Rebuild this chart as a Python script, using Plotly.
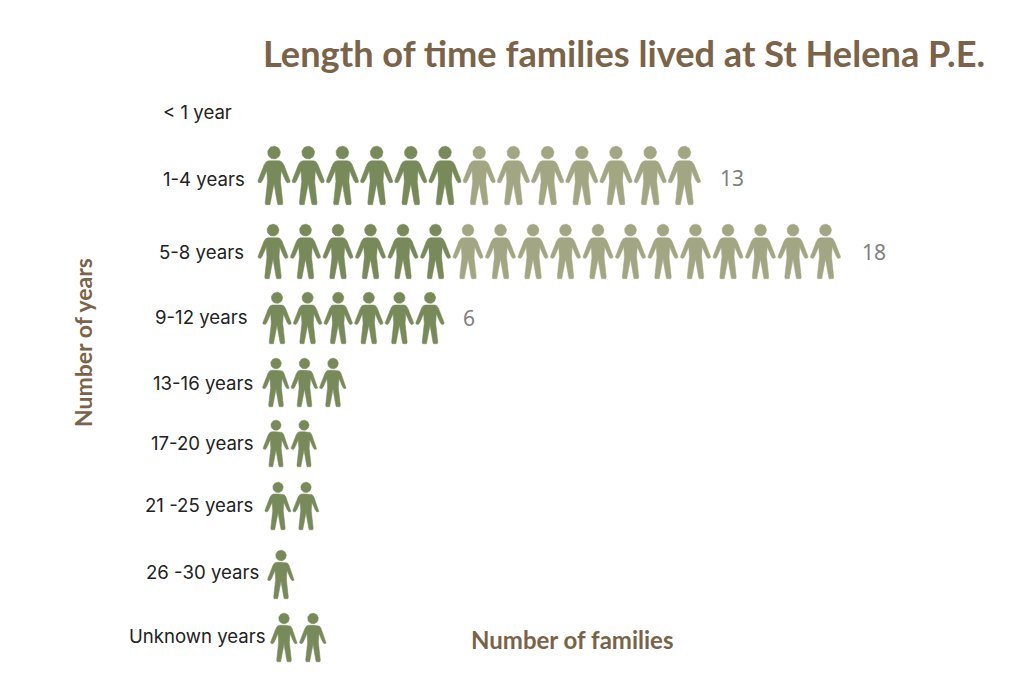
import numpy as np
import plotly.graph_objects as go

# ---- data ----
categories = ["< 1 year", "1-4 years", "5-8 years", "9-12 years", "13-16 years",
              "17-20 years", "21 -25 years", "26 -30 years", "Unknown years"]
families = [0, 13, 18, 6, 3, 2, 2, 1, 2]
highlighted = [0, 6, 6, 6, 3, 2, 2, 1, 2]   # darker icons in each row
value_labels = {1: "13", 2: "18", 3: "6"}

title_text = "Length of time families lived at St Helena P.E."
x_title = "Number of families"
y_title = "Number of years"

# ---- row layout (page pixels; axes are mapped 1:1 to the page, which has an 8px body margin) ----
row_first = [0, 274, 273, 277, 276, 276, 278, 281, 284]
row_pitch = [0, 34.2, 32.5, 30.6, 28.5, 28, 28, 0, 29]
row_top = [0, 146, 224, 292, 358, 420, 482, 550, 613]
row_height = [0, 59, 55, 52, 49, 47, 48, 49, 49]
label_right = [234, 247, 246, 250, 255, 256, 255, 261, 268]
label_y = [112, 179, 252, 317, 383, 443, 505, 572, 636]
value_x = [0, 732, 874, 469]
value_y = [0, 178, 252, 318]

DARK = "#78895a"
LIGHT = "#a3a682"
BROWN = "#7a6348"
TITLE_FONT = "Lato"
LABEL_FONT = "Inter"

half = [(0.0, .25), (.09, .25), (.13, .265), (.165, .315), (.272, .59), (.268, .615), (.225, .625),
        (.195, .585), (.122, .42), (.11, .60), (.150, .965), (.140, .995), (.068, .995),
        (.056, .96), (0.0, .64)]
bx = np.array([p[0] for p in half] + [-p[0] for p in half[::-1]])
by = np.array([p[1] for p in half] + [p[1] for p in half[::-1]])
theta = np.linspace(0, 2 * np.pi, 37)
hx = .108 * np.cos(theta)
hy = .112 + .108 * np.sin(theta)


def icons(xc, top, h):
    xs, ys = [], []
    for x in xc:
        xs += list(x + bx * h) + [None] + list(x + hx * h) + [None]
        ys += list(top + by * h) + [None] + list(top + hy * h) + [None]
    return xs, ys


fig = go.Figure()
for r, n in enumerate(families):
    if n == 0:
        continue
    centres = [row_first[r] + i * row_pitch[r] for i in range(n)]
    for part, col in ((centres[:highlighted[r]], DARK), (centres[highlighted[r]:], LIGHT)):
        if not part:
            continue
        xs, ys = icons(part, row_top[r], row_height[r])
        fig.add_trace(go.Scatter(x=xs, y=ys, mode="lines", fill="toself", fillcolor=col,
                                 line=dict(color=col, width=0.5), hoverinfo="skip",
                                 showlegend=False, name=categories[r]))

ann = []
for r, c in enumerate(categories):
    ann.append(dict(x=label_right[r], y=label_y[r], text=c, xanchor="right", yanchor="middle",
                    showarrow=False, font=dict(family=LABEL_FONT, size=18.6, color="#222222")))
for r, t in value_labels.items():
    ann.append(dict(x=value_x[r], y=value_y[r], text=t, xanchor="center", yanchor="middle",
                    showarrow=False, font=dict(family="Noto Sans", size=21, color="#7f7f7f")))
ann.append(dict(x=261, y=53, text=f"<b>{title_text}</b>", xanchor="left", yanchor="middle", showarrow=False,
                font=dict(family=TITLE_FONT, size=36.2, color=BROWN)))
ann.append(dict(x=571.5, y=639, text=f"<b>{x_title}</b>", xanchor="center", yanchor="middle", showarrow=False,
                font=dict(family=TITLE_FONT, size=24, color=BROWN)))
ann.append(dict(x=83, y=343, text=f"<b>{y_title}</b>", textangle=-90, xanchor="center", yanchor="middle",
                showarrow=False, font=dict(family=TITLE_FONT, size=23, color=BROWN)))

fig.update_layout(width=1008, height=661, margin=dict(l=0, r=0, t=0, b=0),
                  paper_bgcolor="white", plot_bgcolor="white", annotations=ann, showlegend=False,
                  xaxis=dict(range=[8, 1016], visible=False, fixedrange=True),
                  yaxis=dict(range=[669, 8], visible=False, fixedrange=True))
fig.write_html("out.html", config={"displayModeBar": False})
